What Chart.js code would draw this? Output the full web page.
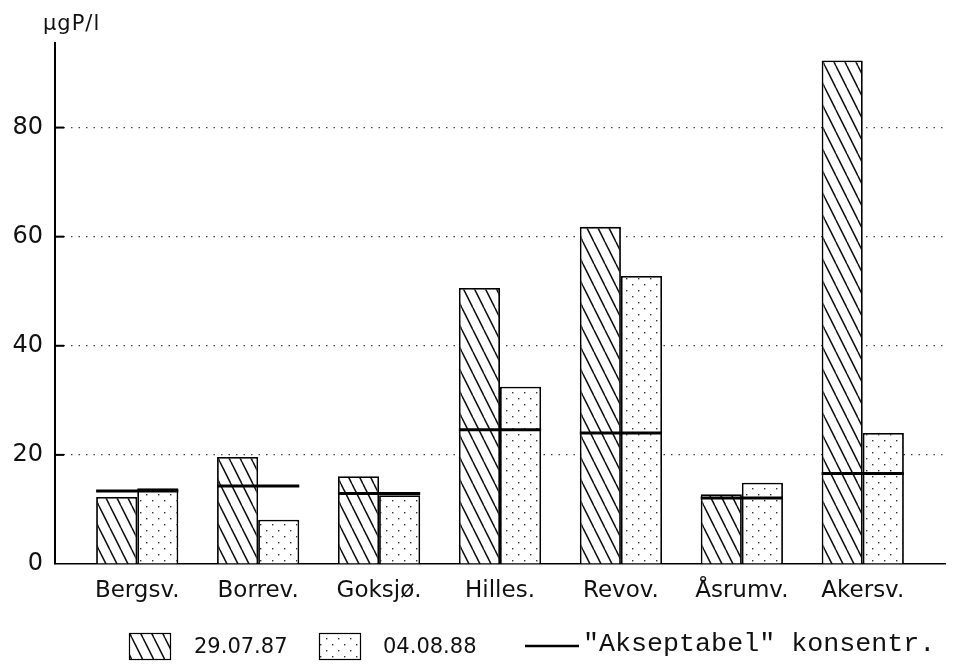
<!DOCTYPE html>
<html>
<head>
<meta charset="utf-8">
<script src="https://cdn.jsdelivr.net/npm/chart.js@4"></script>
<style>
  html, body { margin: 0; padding: 0; background: #fff; }
  canvas { display: block; }
</style>
</head>
<body>
<canvas id="chart" width="959" height="672"></canvas>
<script>
// данные
const stations = ['Bergsv.', 'Borrev.', 'Goksjø.', 'Hilles.', 'Revov.', 'Åsrumv.', 'Akersv.'];
const vals1987 = [12.3, 19.6, 16.1, 50.6, 61.8, 12.8, 92.3];
const vals1988 = [13.9, 8.1, 12.6, 32.5, 52.8, 14.9, 24.0];
const accepted = [13.4, 14.3, 12.9, 24.6, 24.0, 12.1, 16.6];
const yTicks = [0, 20, 40, 60, 80];
const legendLabels = ['29.07.87', '04.08.88', '"Akseptabel" konsentr.'];
const unitLabel = 'µgP/l';

const FONT = 'DejaVu Sans';

// штриховка \\\\ для первой серии
function makeHatch() {
    let c = document.createElement('canvas');
    c.width = 11; c.height = 22;
    let g = c.getContext('2d');
    g.fillStyle = '#fff';
    g.fillRect(0, 0, 11, 22);
    g.strokeStyle = '#111';
    g.lineWidth = 1.5;
    for (let k = -1; k <= 1; k++) {
        g.beginPath();
        g.moveTo(k * 11, 0);
        g.lineTo(k * 11 + 11, 22);
        g.stroke();
    }
    return g.createPattern(c, 'repeat');
}

// точки для второй серии
function makeDots() {
    let c = document.createElement('canvas');
    c.width = 12; c.height = 12;
    let g = c.getContext('2d');
    g.fillStyle = '#fff';
    g.fillRect(0, 0, 12, 12);
    g.fillStyle = '#333';
    g.fillRect(2, 2, 1.4, 1.4);
    g.fillRect(8, 8, 1.4, 1.4);
    return g.createPattern(c, 'repeat');
}

const ctx = document.getElementById('chart').getContext('2d');
const hatch = makeHatch();
const dots = makeDots();

const xPos = stations.map((s, i) => i + 1);
const halfPair = 0.34;

// линия допустимой концентрации поверх пары столбиков
let acceptLine = [];
accepted.forEach((a, i) => {
    acceptLine.push({ x: xPos[i] - halfPair, y: a });
    acceptLine.push({ x: xPos[i] + halfPair, y: a });
    acceptLine.push({ x: xPos[i] + 0.5, y: null });
});

// короткие сплошные засечки у оси Y, подпись единиц и легенда внизу
const decorPlugin = {
    id: 'decor',
    afterDraw(chart) {
        const c = chart.ctx;
        const ys = chart.scales.y;
        const area = chart.chartArea;
        c.save();
        c.strokeStyle = '#000';
        c.lineWidth = 2;
        yTicks.forEach(v => {
            if (v === 0) return;
            let py = ys.getPixelForValue(v);
            c.beginPath();
            c.moveTo(area.left, py);
            c.lineTo(area.left + 9, py);
            c.stroke();
        });

        c.fillStyle = '#111';
        c.font = '21px "' + FONT + '"';
        c.textBaseline = 'middle';
        c.textAlign = 'left';
        if ('letterSpacing' in c) c.letterSpacing = '1px';
        c.fillText(unitLabel, 43, 25);
        if ('letterSpacing' in c) c.letterSpacing = '0px';

        // легенда
        const ly = 646;
        c.lineWidth = 1.2;
        c.fillStyle = hatch;
        c.fillRect(129, 633, 41, 26);
        c.strokeRect(129.5, 633.5, 41, 26);
        c.fillStyle = dots;
        c.fillRect(319, 633, 41, 26);
        c.strokeRect(319.5, 633.5, 41, 26);

        c.fillStyle = '#111';
        c.font = '21px "' + FONT + '"';
        c.fillText(legendLabels[0], 194, ly + 2);
        c.fillText(legendLabels[1], 383, ly + 2);

        c.lineWidth = 2.5;
        c.beginPath();
        c.moveTo(525, ly);
        c.lineTo(579, ly);
        c.stroke();
        c.font = '26.7px "Liberation Mono"';
        c.fillText(legendLabels[2], 583, ly - 2);
        c.restore();
    }
};

new Chart(ctx, {
    type: 'bar',
    data: {
        datasets: [
            {
                type: 'line',
                label: legendLabels[2],
                data: acceptLine,
                borderColor: '#000',
                borderWidth: 3,
                pointRadius: 0,
                spanGaps: false,
                order: 0
            },
            {
                label: legendLabels[0],
                data: vals1987.map((v, i) => ({ x: xPos[i], y: v })),
                backgroundColor: hatch,
                borderColor: '#000',
                borderWidth: 1.8,
                order: 1
            },
            {
                label: legendLabels[1],
                data: vals1988.map((v, i) => ({ x: xPos[i], y: v })),
                backgroundColor: dots,
                borderColor: '#000',
                borderWidth: 1.8,
                order: 1
            }
        ]
    },
    options: {
        responsive: false,
        animation: false,
        devicePixelRatio: 1,
        layout: { padding: { top: 43, right: 14, left: 0, bottom: 0 } },
        datasets: { bar: { categoryPercentage: 0.68, barPercentage: 1 } },
        plugins: { legend: { display: false }, tooltip: { enabled: false } },
        scales: {
            x: {
                type: 'linear',
                offset: false,
                min: 0.32,
                max: 7.68,
                grid: { display: false, drawTicks: false, offset: false },
                border: { display: true, color: '#000', width: 1.5 },
                afterBuildTicks: (scale) => { scale.ticks = xPos.map(v => ({ value: v })); },
                afterFit: (scale) => { scale.height = 108; },
                ticks: {
                    autoSkip: false,
                    maxRotation: 0,
                    padding: 13,
                    color: '#111',
                    font: { family: FONT, size: 23 },
                    callback: (v, i) => stations[i]
                }
            },
            y: {
                min: 0,
                max: 95.5,
                afterBuildTicks: (scale) => { scale.ticks = yTicks.map(v => ({ value: v })); },
                afterFit: (scale) => { scale.width = 55; },
                grid: {
                    drawTicks: false,
                    lineWidth: 1.2,
                    color: (c) => c.tick && c.tick.value === 0 ? 'rgba(0,0,0,0)' : '#444'
                },
                border: { display: true, color: '#000', width: 2, dash: [1.5, 6] },
                ticks: {
                    padding: 12,
                    color: '#111',
                    font: { family: FONT, size: 24 }
                }
            }
        }
    },
    plugins: [decorPlugin]
});
</script>
</body>
</html>
